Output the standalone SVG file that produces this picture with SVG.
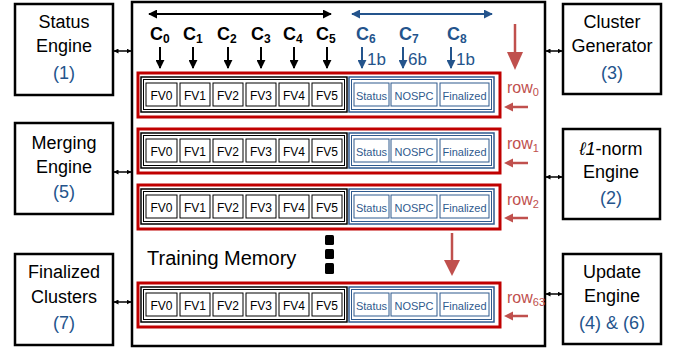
<svg xmlns="http://www.w3.org/2000/svg" width="683" height="352" viewBox="0 0 683 352">
<style>
text{font-family:"Liberation Sans",Arial,sans-serif}
.box{fill:#fff;stroke:#000;stroke-width:2.5}
.lbl{font-size:18px;fill:#000;text-anchor:middle}
.num{font-size:18px;fill:#24548C;text-anchor:middle}
.red{fill:none;stroke:#C00000;stroke-width:3}
.bo{fill:none;stroke:#000;stroke-width:1.5}
.bi{fill:none;stroke:#000;stroke-width:1}
.cell{fill:#fff;stroke:#000;stroke-width:1}
.blo{fill:none;stroke:#2F5A8E;stroke-width:1.5}
.bli{fill:none;stroke:#2F5A8E;stroke-width:1}
.bcell{fill:#fff;stroke:#2F5A8E;stroke-width:1}
.fv{font-size:12px;fill:#000;text-anchor:middle}
.bt{font-size:11px;fill:#2F5A8E;text-anchor:middle}
.rl{font-size:16px;fill:#C0504D}
.rs{font-size:11px}
.c{font-size:18px;font-weight:bold;fill:#000}
.cb{font-size:18px;font-weight:bold;fill:#24548C}
.sub{font-size:12px}
.bits{font-size:17px;fill:#24548C}
.ra{stroke:#C0504D;stroke-width:2.5;fill:none}
</style>
<defs>
<marker id="ah" viewBox="0 0 10 10" refX="9" refY="5" markerWidth="5" markerHeight="5" orient="auto-start-reverse" markerUnits="userSpaceOnUse"><path d="M0,0L10,5L0,10z" fill="#000"/></marker>
<marker id="ahk" viewBox="0 0 10 10" refX="9" refY="5" markerWidth="9" markerHeight="9" orient="auto-start-reverse" markerUnits="userSpaceOnUse"><path d="M0,0L10,5L0,10z" fill="#000"/></marker>
<marker id="ahb" viewBox="0 0 10 10" refX="9" refY="5" markerWidth="9" markerHeight="9" orient="auto-start-reverse" markerUnits="userSpaceOnUse"><path d="M0,0L10,5L0,10z" fill="#24548C"/></marker>
</defs>

<g id="training-memory">
<rect x="132" y="2" width="413" height="344" class="box" stroke-width="2"/>
<text x="147" y="265" font-size="20" fill="#000">Training Memory</text>
<rect x="325" y="235" width="9" height="10" rx="1.5" fill="#000"/>
<rect x="325" y="249" width="9" height="10" rx="1.5" fill="#000"/>
<rect x="325" y="263" width="9" height="11" rx="1.5" fill="#000"/>
</g>

<g id="status-engine">
<rect x="15" y="4" width="98" height="91" class="box"/>
<text x="64" y="28" class="lbl">Status</text>
<text x="64" y="52" class="lbl">Engine</text>
<text x="64" y="79" class="num">(1)</text>
</g>
<g id="merging-engine">
<rect x="15" y="123" width="98" height="91" class="box"/>
<text x="64" y="149" class="lbl">Merging</text>
<text x="64" y="173" class="lbl">Engine</text>
<text x="64" y="198" class="num">(5)</text>
</g>
<g id="finalized-clusters">
<rect x="15" y="254" width="98" height="91" class="box"/>
<text x="64" y="278" class="lbl">Finalized</text>
<text x="64" y="303" class="lbl">Clusters</text>
<text x="64" y="329" class="num">(7)</text>
</g>
<g id="cluster-generator">
<rect x="563" y="4" width="98" height="90" class="box"/>
<text x="612" y="28" class="lbl">Cluster</text>
<text x="612" y="52" class="lbl">Generator</text>
<text x="612" y="79" class="num">(3)</text>
</g>
<g id="l1-norm-engine">
<rect x="563" y="129" width="97" height="90" class="box"/>
<text x="611" y="155" class="lbl"><tspan font-style="italic">ℓ1</tspan>-norm</text>
<text x="611" y="178" class="lbl">Engine</text>
<text x="611" y="204" class="num">(2)</text>
</g>
<g id="update-engine">
<rect x="563" y="254" width="98" height="90" class="box"/>
<text x="612" y="278" class="lbl">Update</text>
<text x="612" y="302" class="lbl">Engine</text>
<text x="612" y="329" class="num">(4) &amp; (6)</text>
</g>

<g id="columns">
<line x1="149" y1="14" x2="331" y2="14" stroke="#000" stroke-width="2" marker-start="url(#ahk)" marker-end="url(#ahk)"/>
<line x1="352" y1="14" x2="492" y2="14" stroke="#24548C" stroke-width="2" marker-start="url(#ahb)" marker-end="url(#ahb)"/>
<text x="150" y="40" class="c">C<tspan class="sub" dy="3">0</tspan></text>
<text x="183" y="40" class="c">C<tspan class="sub" dy="3">1</tspan></text>
<text x="217" y="40" class="c">C<tspan class="sub" dy="3">2</tspan></text>
<text x="251" y="40" class="c">C<tspan class="sub" dy="3">3</tspan></text>
<text x="283" y="40" class="c">C<tspan class="sub" dy="3">4</tspan></text>
<text x="316" y="40" class="c">C<tspan class="sub" dy="3">5</tspan></text>
<text x="356" y="40" class="cb">C<tspan class="sub" dy="3">6</tspan></text>
<text x="399" y="40" class="cb">C<tspan class="sub" dy="3">7</tspan></text>
<text x="447" y="40" class="cb">C<tspan class="sub" dy="3">8</tspan></text>
<g stroke="#000" stroke-width="2" marker-end="url(#ahk)">
<line x1="160" y1="47" x2="160" y2="68"/>
<line x1="193" y1="47" x2="193" y2="68"/>
<line x1="228" y1="47" x2="228" y2="68"/>
<line x1="261" y1="47" x2="261" y2="68"/>
<line x1="294" y1="47" x2="294" y2="68"/>
<line x1="327" y1="47" x2="327" y2="68"/>
</g>
<g stroke="#24548C" stroke-width="2" marker-end="url(#ahb)">
<line x1="362" y1="47" x2="362" y2="68"/>
<line x1="403" y1="47" x2="403" y2="68"/>
<line x1="451" y1="47" x2="451" y2="68"/>
</g>
<text x="367" y="65" class="bits">1b</text>
<text x="408" y="65" class="bits">6b</text>
<text x="456" y="65" class="bits">1b</text>
</g>

<g id="row0">
<rect x="138" y="73" width="362" height="44" class="red"/>
<rect x="141" y="77" width="206" height="35" class="bo"/><rect x="143.5" y="79.5" width="201" height="30" class="bi"/>
<rect x="146" y="83" width="31" height="23" class="cell"/><text x="161.5" y="100" class="fv">FV0</text>
<rect x="180" y="83" width="30" height="23" class="cell"/><text x="195" y="100" class="fv">FV1</text>
<rect x="213" y="83" width="30" height="23" class="cell"/><text x="228" y="100" class="fv">FV2</text>
<rect x="246" y="83" width="30" height="23" class="cell"/><text x="261" y="100" class="fv">FV3</text>
<rect x="279" y="83" width="30" height="23" class="cell"/><text x="294" y="100" class="fv">FV4</text>
<rect x="312" y="83" width="30" height="23" class="cell"/><text x="327" y="100" class="fv">FV5</text>
<rect x="349" y="77" width="145" height="35" class="blo"/><rect x="351.5" y="79.5" width="140" height="30" class="bli"/>
<rect x="354" y="83" width="35" height="23" class="bcell"/><text x="371.5" y="99.5" class="bt">Status</text>
<rect x="391" y="83" width="46" height="23" class="bcell"/><text x="414" y="99.5" class="bt" font-size="12">NOSPC</text>
<rect x="440" y="83" width="49" height="23" class="bcell"/><text x="464.5" y="99.5" class="bt">Finalized</text>
<text x="507" y="93" class="rl">row<tspan class="rs" dy="3">0</tspan></text>
</g>
<g id="row1">
<rect x="138" y="129" width="362" height="44" class="red"/>
<rect x="141" y="133" width="206" height="35" class="bo"/><rect x="143.5" y="135.5" width="201" height="30" class="bi"/>
<rect x="146" y="139" width="31" height="23" class="cell"/><text x="161.5" y="156" class="fv">FV0</text>
<rect x="180" y="139" width="30" height="23" class="cell"/><text x="195" y="156" class="fv">FV1</text>
<rect x="213" y="139" width="30" height="23" class="cell"/><text x="228" y="156" class="fv">FV2</text>
<rect x="246" y="139" width="30" height="23" class="cell"/><text x="261" y="156" class="fv">FV3</text>
<rect x="279" y="139" width="30" height="23" class="cell"/><text x="294" y="156" class="fv">FV4</text>
<rect x="312" y="139" width="30" height="23" class="cell"/><text x="327" y="156" class="fv">FV5</text>
<rect x="349" y="133" width="145" height="35" class="blo"/><rect x="351.5" y="135.5" width="140" height="30" class="bli"/>
<rect x="354" y="139" width="35" height="23" class="bcell"/><text x="371.5" y="155.5" class="bt">Status</text>
<rect x="391" y="139" width="46" height="23" class="bcell"/><text x="414" y="155.5" class="bt" font-size="12">NOSPC</text>
<rect x="440" y="139" width="49" height="23" class="bcell"/><text x="464.5" y="155.5" class="bt">Finalized</text>
<text x="507" y="149" class="rl">row<tspan class="rs" dy="3">1</tspan></text>
</g>
<g id="row2">
<rect x="138" y="185" width="362" height="44" class="red"/>
<rect x="141" y="189" width="206" height="35" class="bo"/><rect x="143.5" y="191.5" width="201" height="30" class="bi"/>
<rect x="146" y="195" width="31" height="23" class="cell"/><text x="161.5" y="212" class="fv">FV0</text>
<rect x="180" y="195" width="30" height="23" class="cell"/><text x="195" y="212" class="fv">FV1</text>
<rect x="213" y="195" width="30" height="23" class="cell"/><text x="228" y="212" class="fv">FV2</text>
<rect x="246" y="195" width="30" height="23" class="cell"/><text x="261" y="212" class="fv">FV3</text>
<rect x="279" y="195" width="30" height="23" class="cell"/><text x="294" y="212" class="fv">FV4</text>
<rect x="312" y="195" width="30" height="23" class="cell"/><text x="327" y="212" class="fv">FV5</text>
<rect x="349" y="189" width="145" height="35" class="blo"/><rect x="351.5" y="191.5" width="140" height="30" class="bli"/>
<rect x="354" y="195" width="35" height="23" class="bcell"/><text x="371.5" y="211.5" class="bt">Status</text>
<rect x="391" y="195" width="46" height="23" class="bcell"/><text x="414" y="211.5" class="bt" font-size="12">NOSPC</text>
<rect x="440" y="195" width="49" height="23" class="bcell"/><text x="464.5" y="211.5" class="bt">Finalized</text>
<text x="507" y="205" class="rl">row<tspan class="rs" dy="3">2</tspan></text>
</g>
<g id="row63">
<rect x="138" y="283" width="362" height="44" class="red"/>
<rect x="141" y="287" width="206" height="35" class="bo"/><rect x="143.5" y="289.5" width="201" height="30" class="bi"/>
<rect x="146" y="293" width="31" height="23" class="cell"/><text x="161.5" y="310" class="fv">FV0</text>
<rect x="180" y="293" width="30" height="23" class="cell"/><text x="195" y="310" class="fv">FV1</text>
<rect x="213" y="293" width="30" height="23" class="cell"/><text x="228" y="310" class="fv">FV2</text>
<rect x="246" y="293" width="30" height="23" class="cell"/><text x="261" y="310" class="fv">FV3</text>
<rect x="279" y="293" width="30" height="23" class="cell"/><text x="294" y="310" class="fv">FV4</text>
<rect x="312" y="293" width="30" height="23" class="cell"/><text x="327" y="310" class="fv">FV5</text>
<rect x="349" y="287" width="145" height="35" class="blo"/><rect x="351.5" y="289.5" width="140" height="30" class="bli"/>
<rect x="354" y="293" width="35" height="23" class="bcell"/><text x="371.5" y="309.5" class="bt">Status</text>
<rect x="391" y="293" width="46" height="23" class="bcell"/><text x="414" y="309.5" class="bt" font-size="12">NOSPC</text>
<rect x="440" y="293" width="49" height="23" class="bcell"/><text x="464.5" y="309.5" class="bt">Finalized</text>
<text x="507" y="303" class="rl">row<tspan class="rs" dy="3">63</tspan></text>
</g>

<g id="connectors">
<g stroke="#000" stroke-width="1.5" marker-start="url(#ah)" marker-end="url(#ah)">
<line x1="114" y1="51" x2="131" y2="51"/>
<line x1="114" y1="172" x2="131" y2="172"/>
<line x1="114" y1="302" x2="131" y2="302"/>
<line x1="546" y1="51" x2="562" y2="51"/>
<line x1="546" y1="177" x2="562" y2="177"/>
<line x1="546" y1="294" x2="562" y2="294"/>
</g>
<line x1="515" y1="24" x2="515" y2="53" class="ra"/>
<path d="M507,52L523,52L515,70z" fill="#C0504D"/>
<line x1="452" y1="233" x2="452" y2="261" class="ra"/>
<path d="M444,260L460,260L452,276z" fill="#C0504D"/>
<g class="ra">
<line x1="528" y1="107" x2="512" y2="107"/>
<line x1="528" y1="163" x2="512" y2="163"/>
<line x1="528" y1="218" x2="512" y2="218"/>
<line x1="528" y1="316" x2="512" y2="316"/>
</g>
<g fill="#C0504D">
<path d="M504,107L513,102.5L513,111.5z"/>
<path d="M504,163L513,158.5L513,167.5z"/>
<path d="M504,218L513,213.5L513,222.5z"/>
<path d="M504,316L513,311.5L513,320.5z"/>
</g>
</g>
</svg>
